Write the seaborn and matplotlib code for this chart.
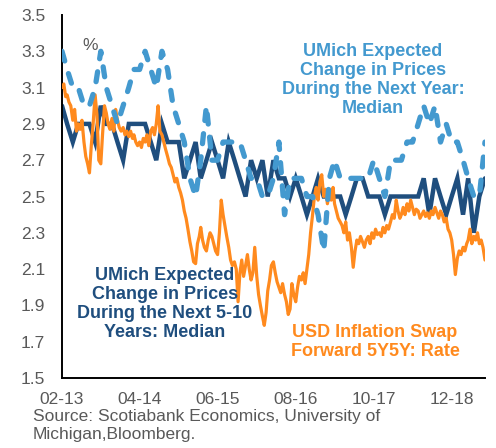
import matplotlib
matplotlib.use("Agg")
import matplotlib.pyplot as plt
import numpy as np
import pandas as pd
import seaborn as sns

# ---------------- data ----------------
month_start = "2013-02-01"
n_months = 77

umich_5_10y = [
    3.0, 2.9, 2.8, 2.9, 2.9, 2.9, 2.8, 3.0, 2.9, 2.9, 2.8, 2.7,
    2.9, 2.9, 2.9, 2.9, 2.8, 2.7, 2.9, 2.8, 2.8, 2.8, 2.6, 2.7,
    2.8, 2.6, 2.7, 2.8, 2.7, 2.6, 2.8, 2.7, 2.6, 2.5, 2.7, 2.6,
    2.7, 2.5, 2.7, 2.6, 2.6, 2.5, 2.6, 2.5, 2.4, 2.5, 2.6, 2.5,
    2.5, 2.5, 2.5, 2.4, 2.5, 2.6, 2.6, 2.5, 2.5, 2.5, 2.4, 2.5,
    2.5, 2.5, 2.5, 2.5, 2.5, 2.6, 2.4, 2.6, 2.5, 2.4, 2.5, 2.6,
    2.4, 2.6, 2.3, 2.5, 2.6,
]

umich_1y = [
    3.3, 3.2, 3.1, 3.1, 3.0, 3.0, 3.1, 3.3, 3.1, 3.0, 2.9, 3.0,
    3.1, 3.2, 3.2, 3.3, 3.2, 3.1, 3.3, 3.2, 3.0, 2.9, 2.8, 2.6,
    2.5, 2.7, 3.0, 2.7, 2.7, 2.8, 2.8, 2.8, 2.8, 2.7, 2.6, 2.6,
    2.5, 2.5, 2.6, 2.8, 2.4, 2.6, 2.6, 2.6, 2.5, 2.5, 2.4, 2.2,
    2.6, 2.7, 2.6, 2.6, 2.6, 2.6, 2.6, 2.6, 2.7, 2.6, 2.5, 2.7,
    2.7, 2.7, 2.8, 2.8, 2.9, 3.0, 2.9, 3.0, 2.8, 2.9, 2.8, 2.8,
    2.7, 2.6, 2.5, 2.5, 2.8,
]

# 5Y5Y swap: three readings per month (1st, 11th, 21st), plus the final day
swap_5y5y = [
    3.10, 3.12, 3.05,  3.06, 3.02, 3.00,  2.92, 2.98, 2.86,  2.90, 2.87, 2.92,
    2.80, 2.72, 2.68,  2.63, 2.78, 2.90,  3.06, 2.95, 2.70,  2.68, 2.85, 3.00,
    2.96, 2.90, 2.87,  2.93, 2.86, 2.98,  2.92, 2.88, 2.86,  2.88, 2.84, 2.86,
    2.83, 2.86, 2.82,  2.84, 2.80, 2.78,  2.80, 2.77, 2.82,  2.80, 2.84, 2.78,
    2.86, 2.88, 2.84,  2.90, 3.00, 2.86,  2.84, 2.80, 2.76,  2.72, 2.68, 2.66,
    2.62, 2.58, 2.60,  2.55, 2.52, 2.48,  2.42, 2.38, 2.32,  2.25, 2.20, 2.14,
    2.13, 2.24, 2.28,  2.33, 2.26, 2.22,  2.20, 2.26, 2.30,  2.28, 2.24, 2.20,
    2.18, 2.30, 2.48,  2.40, 2.34, 2.28,  2.22, 2.15, 2.12,  2.14, 2.10, 1.92,
    2.08, 2.15, 2.06,  2.12, 2.18, 2.10,  2.04, 2.08, 2.22,  2.06, 1.96, 1.90,
    1.84, 1.79, 1.86,  1.98, 2.04, 2.12,  2.14, 2.08, 2.03,  2.00, 1.97, 2.02,
    1.96, 1.92, 1.85,  1.88, 2.02, 1.96,  1.92, 2.00, 2.06,  2.04, 2.08, 2.02,
    2.10, 2.18, 2.30,  2.40, 2.50, 2.55,  2.48, 2.58, 2.62,  2.50, 2.54, 2.46,
    2.52, 2.48, 2.55,  2.46, 2.42, 2.38,  2.36, 2.34, 2.30,  2.36, 2.26, 2.30,
    2.22, 2.11, 2.20,  2.26, 2.24, 2.28,  2.25, 2.22, 2.26,  2.28, 2.24, 2.30,
    2.27, 2.32, 2.29,  2.30, 2.28, 2.33,  2.30, 2.34, 2.32,  2.36, 2.40, 2.38,
    2.48, 2.42, 2.38,  2.40, 2.44, 2.40,  2.46, 2.42, 2.48,  2.44, 2.40, 2.43,
    2.42, 2.38, 2.40,  2.42, 2.39, 2.41,  2.38, 2.42, 2.40,  2.44, 2.41, 2.38,
    2.42, 2.40, 2.36,  2.38, 2.32, 2.30,  2.26, 2.18, 2.07,  2.16, 2.20, 2.18,
    2.22, 2.20, 2.24,  2.26, 2.32, 2.24,  2.28, 2.26, 2.30,  2.24, 2.26, 2.22,
    2.15,
]

x_tick_labels = ["02-13", "04-14", "06-15", "08-16", "10-17", "12-18"]
y_ticks = [1.5, 1.7, 1.9, 2.1, 2.3, 2.5, 2.7, 2.9, 3.1, 3.3, 3.5]

# ---------------- frames ----------------
months = pd.date_range(month_start, periods=n_months, freq="MS")
df_m = pd.DataFrame({"date": months, "y5_10": umich_5_10y, "y1": umich_1y})

swap_dates = []
for m in months[:-1]:
    for d in (0, 10, 20):
        swap_dates.append(m + pd.Timedelta(days=d))
swap_dates.append(months[-1])
df_s = pd.DataFrame({"date": swap_dates, "swap": swap_5y5y})

# ---------------- style ----------------
sns.set_theme(style="white")
plt.rcParams["font.family"] = ["Liberation Sans", "DejaVu Sans"]

C_LB = "#4399CF"
C_DB = "#1F4E7E"
C_OR = "#FF8A1E"
C_TXT = "#595959"

fig = plt.figure(figsize=(4.96, 4.48), dpi=100)
ax = fig.add_axes([62 / 496, 1 - 378 / 448, 423 / 496, 363 / 448])

sns.lineplot(data=df_m, x="date", y="y5_10", ax=ax, color=C_DB, linewidth=3.2,
             zorder=2, solid_joinstyle="miter")
sns.lineplot(data=df_s, x="date", y="swap", ax=ax, color=C_OR, linewidth=2.3,
             zorder=3)
sns.lineplot(data=df_m, x="date", y="y1", ax=ax, color=C_LB, linewidth=3.8,
             zorder=4)
lb = ax.lines[-1]
lb.set_dashes((1.9, 2.5))
lb.set_dash_capstyle("round")

# ---------------- axes ----------------
ax.set_xlim(months[0], months[-1])
ax.set_ylim(1.5, 3.5)
ax.set_yticks(y_ticks)
ax.set_yticklabels([f"{v:.1f}" for v in y_ticks])
tick_dates = [pd.Timestamp("2013-02-01") + pd.DateOffset(months=14 * i) for i in range(6)]
ax.set_xticks(tick_dates)
ax.set_xticklabels(x_tick_labels)
ax.set_xlabel("")
ax.set_ylabel("")

for s in ("top", "right"):
    ax.spines[s].set_visible(False)
for s in ("left", "bottom"):
    ax.spines[s].set_color("black")
    ax.spines[s].set_linewidth(1.4)

ax.tick_params(axis="both", which="major", direction="out", length=4, width=1.4,
               color="black", labelcolor=C_TXT, labelsize=12.5)
ax.tick_params(axis="y", pad=8)
ax.tick_params(axis="x", pad=6)
ax.set_facecolor("white")
fig.patch.set_facecolor("white")

# ---------------- annotations ----------------
ax.text(0.066, 0.917, "%", transform=ax.transAxes, ha="center", va="center",
        fontsize=12.5, color=C_TXT)
ax.text(0.735, 0.821, "UMich Expected\nChange in Prices\nDuring the Next Year:\nMedian",
        transform=ax.transAxes, ha="center", va="center", fontsize=13,
        fontweight="bold", color=C_LB, linespacing=1.15)
ax.text(0.2435, 0.204, "UMich Expected\nChange in Prices\nDuring the Next 5-10\nYears: Median",
        transform=ax.transAxes, ha="center", va="center", fontsize=13,
        fontweight="bold", color=C_DB, linespacing=1.15)
ax.text(0.74, 0.099, "USD Inflation Swap\nForward 5Y5Y: Rate",
        transform=ax.transAxes, ha="center", va="center", fontsize=13,
        fontweight="bold", color=C_OR, linespacing=1.15)

fig.text(33 / 496, 1 - 421 / 448, "Source: Scotiabank Economics, University of",
         ha="left", va="baseline", fontsize=12.5, color=C_TXT)
fig.text(33 / 496, 1 - 439 / 448, "Michigan,Bloomberg.",
         ha="left", va="baseline", fontsize=12.5, color=C_TXT)

fig.savefig("out.png", dpi=100, facecolor="white")
